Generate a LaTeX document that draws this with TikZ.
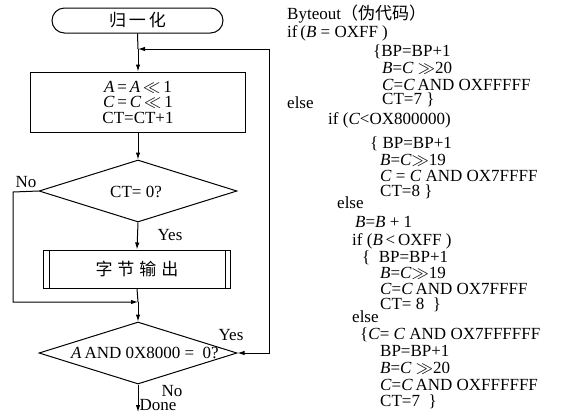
\documentclass[tikz,border=0pt]{standalone}
\usepackage{fontspec}
\setmainfont{Liberation Serif}
\newfontfamily\cjk{Noto Sans CJK SC}
\usetikzlibrary{shapes.geometric,arrows.meta,calc}
\tikzset{
  flow/.style={draw, line width=1pt, inner sep=0pt},
  codeline/.style={anchor=west, inner sep=0pt, text height=10.5pt, text depth=2.5pt, font=\fontsize{17}{17}\selectfont},
  lbl/.style={inner sep=0pt},
  conn/.style={line width=1pt},
  arr/.style={line width=1pt, -{Latex[length=7pt,width=4.5pt]}},
}
\begin{document}
\begin{tikzpicture}[x=1pt,y=-1pt,font=\fontsize{17}{17}\selectfont]
\useasboundingbox (0,0) rectangle (562,413);
% flowchart
\node[flow, rounded corners=12.5pt, minimum width=171pt, minimum height=25pt] (t) at (137.5,20.5) {\cjk 归\hspace{3pt}一\hspace{3pt}化};
\node[flow, minimum width=215pt, minimum height=60pt, align=center, font=\fontsize{17}{15.5}\selectfont] (b1) at (138,102)
  {\textit{A}\,=\,\textit{A}\,$\ll$\,1\\ \textit{C}\,=\,\textit{C}\,$\ll$\,1\\ CT=CT+1};
\node[flow, diamond, minimum width=198pt, minimum height=62pt] (d1) at (138,191) {};
\node[lbl] (d1t) at (136,192) {CT= 0?};
\node[flow, minimum width=187pt, minimum height=38pt] (p) at (137,269) {\cjk 字\hspace{5pt}节\hspace{5pt}输\hspace{5pt}出};
\draw[conn] ($(p.north west)+(6,0)$) -- ($(p.south west)+(6,0)$);
\draw[conn] ($(p.north east)+(-6,0)$) -- ($(p.south east)+(-6,0)$);
\node[flow, diamond, minimum width=198pt, minimum height=62pt] (d2) at (138,353) {};
\node[lbl] (d2t) at (145,353) {\textit{A}\,AND\ 0X8000\ =\ \ 0?};
% connectors
\coordinate (top) at (138,49);
\coordinate (j) at (138,302);
\coordinate (nol) at (13,192);
\coordinate (fbr) at (269,353);
\coordinate (done) at (138,412);
\draw[conn] (t.south) -- (top);
\draw[arr] (top) -- (b1.north);
\draw[arr] (b1.south) -- (d1.north);
\draw[arr] (d1.south) -- (p.north);
\draw[arr] (d1.west) -- (nol) |- (j);
\draw[conn] (p.south) -- (j);
\draw[arr] (j) -- (d2.north);
\draw[line width=1pt, {Latex[length=7pt,width=4.5pt]}-{Latex[length=7pt,width=4.5pt]}] (d2.east) -- (fbr) |- (top);
\draw[arr] (d2.south) -- (done);
\node[lbl] (no1) at (26,182) {No};
\node[lbl] (yes1) at (170,235) {Yes};
\node[lbl] (yes2) at (231,335) {Yes};
\node[lbl] (no2) at (172,391) {No};
\node[lbl] (dn) at (158,405) {Done};
% pseudo code
\node[codeline] (c1) at (287,15) {Byteout{\cjk （伪代码）}};
\node[codeline] (c2) at (287,33) {if\,(\textit{B} = OXFF )};
\node[codeline] (c3) at (373,52) {\{BP=BP+1};
\node[codeline] (c4) at (382,69.5) {\textit{B}=\textit{C} $\gg$20};
\node[codeline] (c5) at (382,86) {\textit{C}=\textit{C}\,AND OXFFFFF};
\node[codeline] (c6) at (382,100) {CT=7 \}};
\node[codeline] (c7) at (287,104) {else};
\node[codeline] (c8) at (328,120) {if\ (\textit{C}<OX800000)};
\node[codeline] (c9) at (370,144) {\{ BP=BP+1};
\node[codeline] (c10) at (380,161.5) {\textit{B}=\textit{C}$\gg$19};
\node[codeline] (c11) at (380,177) {\textit{C} = \textit{C} AND OX7FFFF};
\node[codeline] (c12) at (380,192) {CT=8 \}};
\node[codeline] (c13) at (337,204) {else};
\node[codeline] (c14) at (355,223) {\textit{B}=\textit{B} + 1};
\node[codeline] (c15) at (352,241.5) {if (\textit{B}\,<\,OXFF )};
\node[codeline] (c16) at (362,258) {\{\ \ BP=BP+1};
\node[codeline] (c17) at (380,274.5) {\textit{B}=\textit{C}$\gg$19};
\node[codeline] (c18) at (380,290) {\textit{C}=\textit{C}\,AND OX7FFFF};
\node[codeline] (c19) at (380,305) {CT= 8 \ \}};
\node[codeline] (c20) at (352,318) {else};
\node[codeline] (c21) at (360,335) {\{\textit{C}= \textit{C} AND OX7FFFFFF};
\node[codeline] (c22) at (380,352) {BP=BP+1};
\node[codeline] (c23) at (380,369) {\textit{B}=\textit{C} $\gg$20};
\node[codeline] (c24) at (380,386) {\textit{C}=\textit{C}\,AND OXFFFFFF};
\node[codeline] (c25) at (380,402) {CT=7 \ \}};
\end{tikzpicture}
\end{document}
